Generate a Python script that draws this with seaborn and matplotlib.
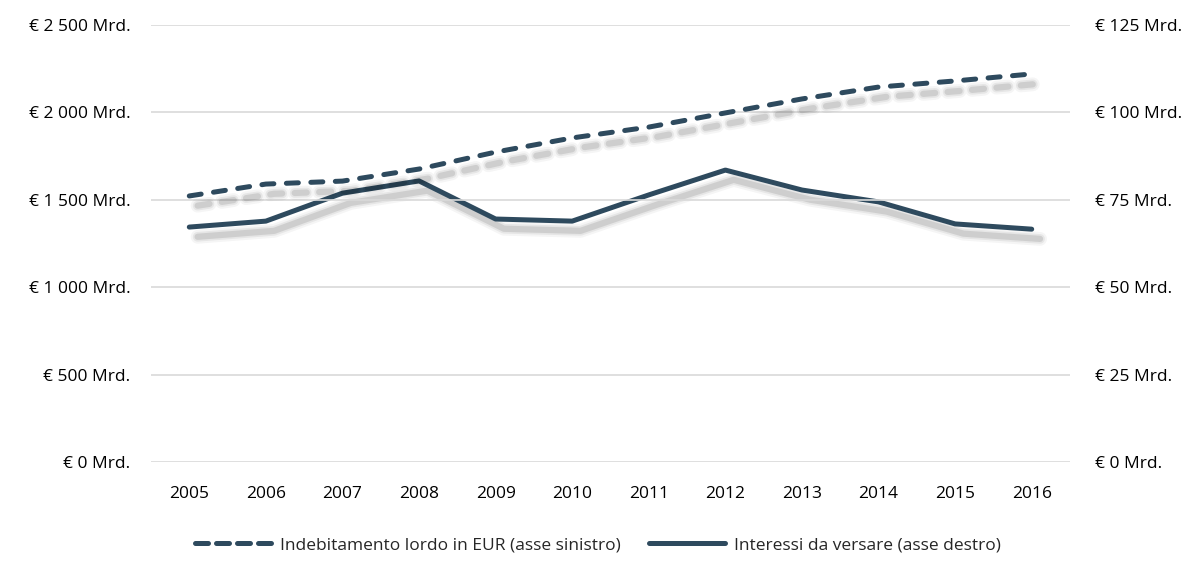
import matplotlib
matplotlib.use("Agg")
import matplotlib.pyplot as plt
import matplotlib.patheffects as pe
from matplotlib.lines import Line2D
from matplotlib.ticker import FuncFormatter, MultipleLocator
import seaborn as sns
import pandas as pd

years = ["2005", "2006", "2007", "2008", "2009", "2010",
         "2011", "2012", "2013", "2014", "2015", "2016"]
debito = [1522, 1590, 1607, 1676, 1773, 1854, 1916, 1997, 2077, 2145, 2180, 2220]
interessi = [67.2, 68.9, 76.9, 80.4, 69.5, 68.9, 76.4, 83.5, 77.8, 74.4, 68.1, 66.6]
label_debito = "Indebitamento lordo in EUR (asse sinistro)"
label_interessi = "Interessi da versare (asse destro)"

df = pd.DataFrame({"anno": years, "debito": debito, "interessi": interessi})

sns.set_theme(style="white")
plt.rcParams["font.family"] = ["Open Sans", "DejaVu Sans"]

color = "#2E4A5E"
fs = 12.5
fig = plt.figure(figsize=(11.96, 5.81), dpi=100)
ax = fig.add_axes([151 / 1196, 1 - 462 / 581, (1070 - 151) / 1196, (462 - 25) / 581])
ax2 = ax.twinx()

def shadow():
    off = (6, -7)
    return [
        pe.SimpleLineShadow(offset=off, shadow_color="#000000", alpha=0.04, linewidth=10),
        pe.SimpleLineShadow(offset=off, shadow_color="#000000", alpha=0.06, linewidth=7),
        pe.SimpleLineShadow(offset=off, shadow_color="#000000", alpha=0.10, linewidth=4.5),
        pe.Normal(),
    ]

sns.lineplot(data=df, x="anno", y="debito", ax=ax, color=color, linewidth=3.6,
             sort=False)
sns.lineplot(data=df, x="anno", y="interessi", ax=ax2, color=color, linewidth=3.6,
             sort=False)

l1 = ax.lines[0]
l1.set_dashes((2.4, 2.5))
l1.set_dash_capstyle("round")
l1.set_path_effects(shadow())
l2 = ax2.lines[0]
l2.set_solid_capstyle("round")
l2.set_path_effects(shadow())

ax.set_xlim(-0.5, len(years) - 0.5)
ax.set_ylim(0, 2500)
ax2.set_ylim(0, 125)
ax.yaxis.set_major_locator(MultipleLocator(500))
ax2.yaxis.set_major_locator(MultipleLocator(25))

def fmt(v, pos):
    s = f"{int(round(v)):,}".replace(",", " ")
    return f"€ {s} Mrd."

ax.yaxis.set_major_formatter(FuncFormatter(fmt))
ax2.yaxis.set_major_formatter(FuncFormatter(fmt))

ax.grid(axis="y", color="#D9D9D9", linewidth=1.2)
ax.grid(axis="x", visible=False)
ax2.grid(False)
for a in (ax, ax2):
    for s in a.spines.values():
        s.set_visible(False)
    a.set_xlabel("")
    a.set_ylabel("")
    a.tick_params(length=0, labelsize=fs, labelcolor="#000000")
ax.tick_params(axis="y", pad=15)
ax2.tick_params(axis="y", pad=18)
ax.tick_params(axis="x", pad=17)
ax.set_zorder(ax2.get_zorder() + 1)
ax.patch.set_visible(False)

handles = [
    Line2D([], [], color=color, linewidth=3.6, dashes=(2.6, 1.6), dash_capstyle="round"),
    Line2D([], [], color=color, linewidth=3.6, solid_capstyle="round"),
]
fig.legend(handles, [label_debito, label_interessi], loc="center",
           bbox_to_anchor=(0.5, 1 - 545 / 581), ncol=2, frameon=False,
           fontsize=fs, handlelength=4.4, handletextpad=0.5, columnspacing=1.6)

fig.savefig("out.png", dpi=100, facecolor="white")
